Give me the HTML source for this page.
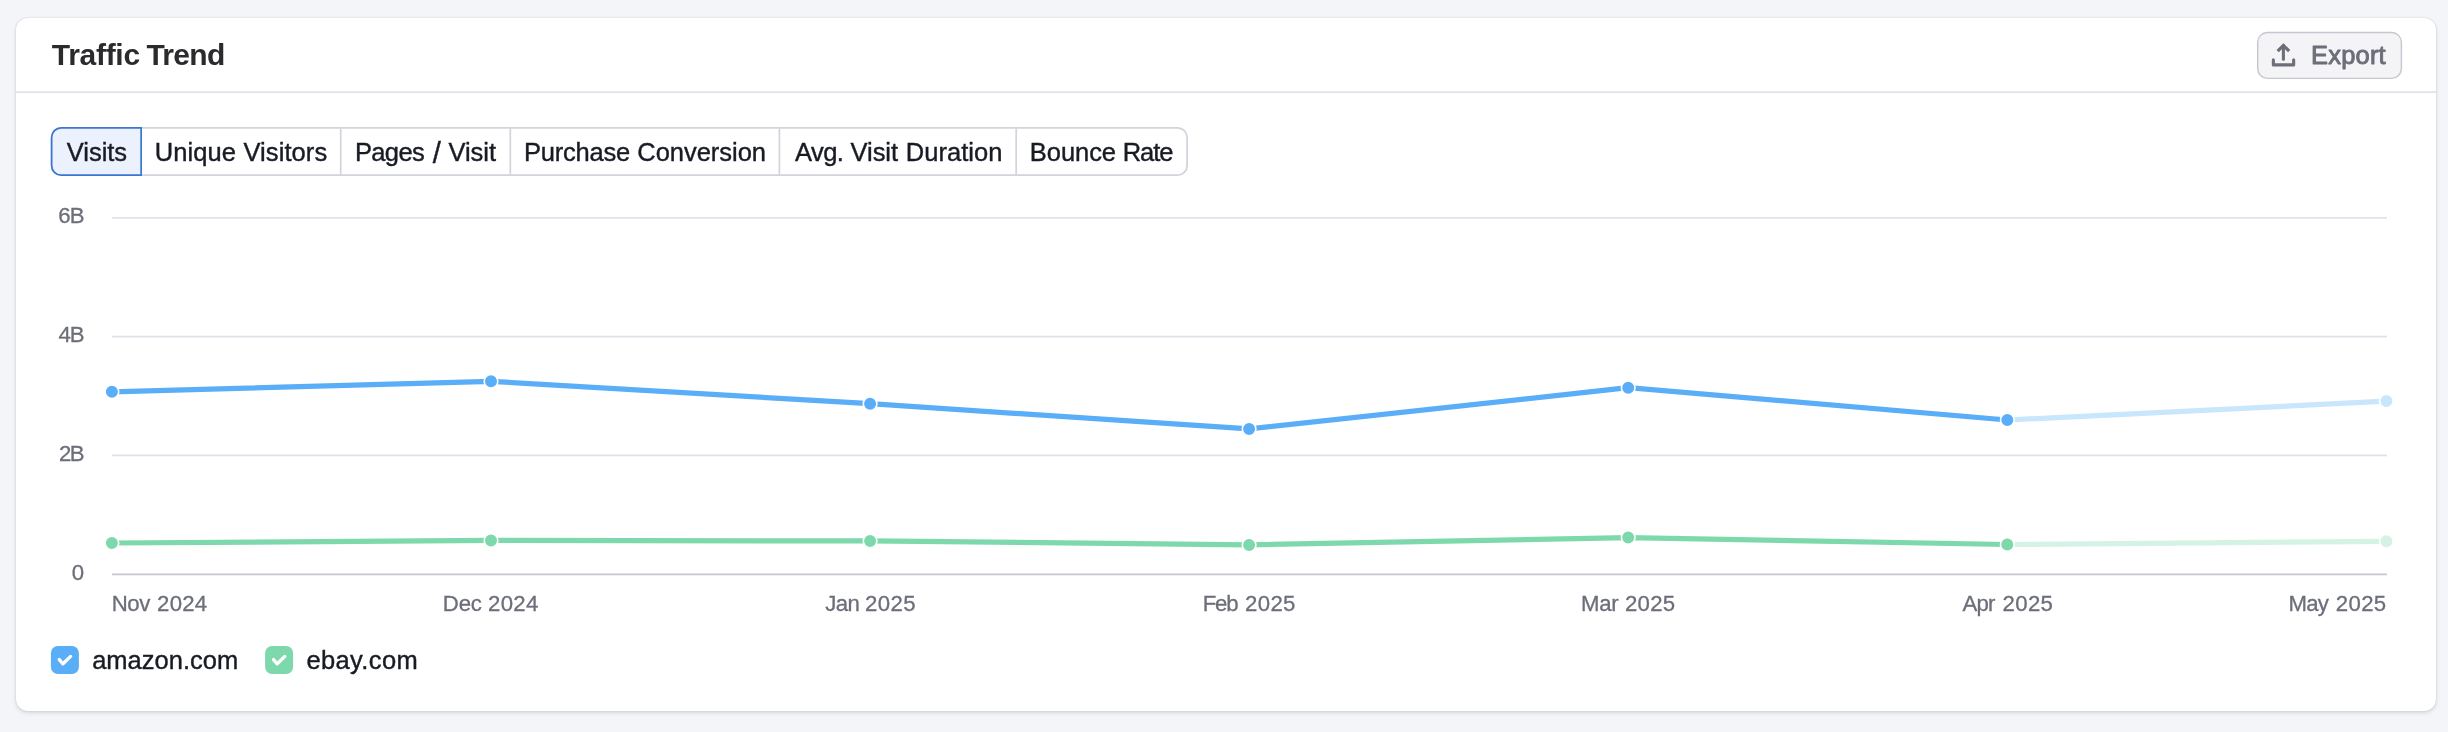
<!DOCTYPE html>
<html lang="en">
<head>
<meta charset="utf-8">
<title>Traffic Trend</title>
<style>
  html, body { margin: 0; padding: 0; }
  body {
    width: 2448px; height: 732px; overflow: hidden;
    background: #f4f5f9;
    font-family: "Liberation Sans", sans-serif;
    position: relative;
  }
  .card {
    position: absolute; left: 16px; top: 18px; width: 2420px; height: 693px;
    background: #ffffff; border-radius: 12px;
    box-shadow: 0 0 2px rgba(25,27,35,0.16), 0 2px 4px rgba(25,27,35,0.12);
  }
  svg { position: absolute; left: 0; top: 0; will-change: transform; }
  text { font-family: "Liberation Sans", sans-serif; }
</style>
</head>
<body>
<div class="card"></div>

<svg width="2448" height="732" viewBox="0 0 2448 732">

  <!-- header divider -->
  <line x1="16" y1="92.15" x2="2436" y2="92.15" stroke="#e0e1e9" stroke-width="1.75"/>

  <!-- export button -->
  <rect x="2257.7" y="32.5" width="143.7" height="45.9" rx="9.8" ry="9.8" fill="#f4f4f6" stroke="#c4c7cf" stroke-width="1.4"/>
  <g fill="none" stroke="#6c6e79">
    <path d="M2283.4 59.3 V45.6" stroke-width="3.1" stroke-linecap="round"/>
    <path d="M2277.65 51.15 L2283.4 45.4 L2289.15 51.15" stroke-width="3.2" stroke-linecap="butt" stroke-linejoin="miter"/>
    <path d="M2273.35 59.9 V64.9 H2293.65 V59.9" stroke-width="3.1" stroke-linecap="round" stroke-linejoin="round"/>
  </g>

  <g font-size="25.5" fill="#6c6e79" stroke="#6c6e79" stroke-width="0.9" stroke-linejoin="round">
    <text id="t-export" x="2311.02" y="63.5" textLength="74.63" lengthAdjust="spacing">Export</text>
  </g>

  <!-- title -->
  <g font-size="30" font-weight="700" fill="#2b2b2d">
    <text id="t-title" x="51.82" y="65" textLength="88.27" lengthAdjust="spacing">Traffic</text>
    <text x="146.39" y="65" textLength="78.82" lengthAdjust="spacing">Trend</text>
  </g>

  <!-- tab group -->
  <rect x="51.625" y="127.875" width="1135.5" height="47.25" rx="9.6" ry="9.6" fill="#ffffff" stroke="#d2d4db" stroke-width="1.75"/>
  <g stroke="#d3d5dc" stroke-width="1.75">
    <line x1="340.7" y1="128.5" x2="340.7" y2="174.5"/>
    <line x1="510.3" y1="128.5" x2="510.3" y2="174.5"/>
    <line x1="779.4" y1="128.5" x2="779.4" y2="174.5"/>
    <line x1="1016.2" y1="128.5" x2="1016.2" y2="174.5"/>
  </g>
  <path d="M141.15 127.875 H61.225 A9.6 9.6 0 0 0 51.625 137.475 V165.525 A9.6 9.6 0 0 0 61.225 175.125 H141.15 Z" fill="#ebf2fe" stroke="#3a76d2" stroke-width="1.75"/>
  <g font-size="25.5" fill="#191b23" stroke="#191b23" stroke-width="0.4">
    <text x="66.70" y="161" textLength="60.42" lengthAdjust="spacing">Visits</text>
    <text x="154.68" y="161" textLength="81.18" lengthAdjust="spacing">Unique</text>
    <text x="243.46" y="161" textLength="83.69" lengthAdjust="spacing">Visitors</text>
    <text x="354.88" y="161" textLength="69.87" lengthAdjust="spacing">Pages</text>
    <text font-size="29" x="432.87" y="163.4">/</text>
    <text x="448.46" y="161" textLength="47.53" lengthAdjust="spacing">Visit</text>
    <text x="524.01" y="161" textLength="106.29" lengthAdjust="spacing">Purchase</text>
    <text x="637.28" y="161" textLength="128.70" lengthAdjust="spacing">Conversion</text>
    <text x="794.90" y="161" textLength="49.05" lengthAdjust="spacing">Avg.</text>
    <text x="850.41" y="161" textLength="47.72" lengthAdjust="spacing">Visit</text>
    <text x="905.85" y="161" textLength="96.51" lengthAdjust="spacing">Duration</text>
    <text x="1029.84" y="161" textLength="86.21" lengthAdjust="spacing">Bounce</text>
    <text x="1122.63" y="161" textLength="50.85" lengthAdjust="spacing">Rate</text>
  </g>

  <!-- grid -->
  <g stroke="#e0e1e9" stroke-width="1.75">
    <line x1="112" y1="217.9" x2="2387" y2="217.9"/>
    <line x1="112" y1="336.65" x2="2387" y2="336.65"/>
    <line x1="112" y1="455.4" x2="2387" y2="455.4"/>
  </g>
  <line x1="112" y1="574.3" x2="2387" y2="574.3" stroke="#c4c7cf" stroke-width="1.75"/>

  <!-- axis labels -->
  <g font-size="22.2" fill="#6c6e79" stroke="#6c6e79" stroke-width="0.3">
    <text x="58.19" y="223" textLength="26.39" lengthAdjust="spacing">6B</text>
    <text x="58.38" y="342" textLength="26.19" lengthAdjust="spacing">4B</text>
    <text x="59.09" y="461" textLength="25.49" lengthAdjust="spacing">2B</text>
    <text x="71.71" y="580">0</text>
    <text x="111.77" y="611" textLength="38.55" lengthAdjust="spacing">Nov</text>
    <text x="157.11" y="611" textLength="49.99" lengthAdjust="spacing">2024</text>
    <text x="442.82" y="611" textLength="39.08" lengthAdjust="spacing">Dec</text>
    <text x="488.11" y="611" textLength="50.14" lengthAdjust="spacing">2024</text>
    <text x="825.13" y="611" textLength="34.64" lengthAdjust="spacing">Jan</text>
    <text x="865.11" y="611" textLength="50.59" lengthAdjust="spacing">2025</text>
    <text x="1202.82" y="611" textLength="35.69" lengthAdjust="spacing">Feb</text>
    <text x="1245.09" y="611" textLength="50.33" lengthAdjust="spacing">2025</text>
    <text x="1581.04" y="611" textLength="37.55" lengthAdjust="spacing">Mar</text>
    <text x="1624.92" y="611" textLength="50.24" lengthAdjust="spacing">2025</text>
    <text x="1962.60" y="611" textLength="32.85" lengthAdjust="spacing">Apr</text>
    <text x="2002.59" y="611" textLength="50.33" lengthAdjust="spacing">2025</text>
    <text x="2288.50" y="611" textLength="40.37" lengthAdjust="spacing">May</text>
    <text x="2335.75" y="611" textLength="50.42" lengthAdjust="spacing">2025</text>
  </g>

  <!-- forecast (faded) segments -->
  <polyline points="2007.3,420 2386.4,401.1" fill="none" stroke="#c8e6fc" stroke-width="5.25"/>
  <polyline points="2007.3,544.5 2386.4,541.3" fill="none" stroke="#d4f3e4" stroke-width="5.25"/>
  <!-- series -->
  <polyline points="111.9,391.8 491,381.3 870.1,403.7 1249.1,428.9 1628.2,387.7 2007.3,420" fill="none" stroke="#5aaef7" stroke-width="5.25" stroke-linejoin="round"/>
  <polyline points="111.9,543 491,540.4 870.1,540.9 1249.1,544.9 1628.2,537.6 2007.3,544.5" fill="none" stroke="#7dd8ab" stroke-width="5.25" stroke-linejoin="round"/>
  <!-- dots -->
  <g stroke="#ffffff" stroke-width="1.6">
    <circle cx="111.9" cy="391.8" r="6.8" fill="#5aaef7"/>
    <circle cx="491" cy="381.3" r="6.8" fill="#5aaef7"/>
    <circle cx="870.1" cy="403.7" r="6.8" fill="#5aaef7"/>
    <circle cx="1249.1" cy="428.9" r="6.8" fill="#5aaef7"/>
    <circle cx="1628.2" cy="387.7" r="6.8" fill="#5aaef7"/>
    <circle cx="2007.3" cy="420" r="6.8" fill="#5aaef7"/>
    <circle cx="2386.4" cy="401.1" r="6.8" fill="#c8e6fc"/>
    <circle cx="111.9" cy="543" r="6.8" fill="#7dd8ab"/>
    <circle cx="491" cy="540.4" r="6.8" fill="#7dd8ab"/>
    <circle cx="870.1" cy="540.9" r="6.8" fill="#7dd8ab"/>
    <circle cx="1249.1" cy="544.9" r="6.8" fill="#7dd8ab"/>
    <circle cx="1628.2" cy="537.6" r="6.8" fill="#7dd8ab"/>
    <circle cx="2007.3" cy="544.5" r="6.8" fill="#7dd8ab"/>
    <circle cx="2386.4" cy="541.3" r="6.8" fill="#d4f3e4"/>
  </g>

  <!-- legend -->
  <rect x="50.9" y="645.9" width="28" height="28.1" rx="7" ry="7" fill="#5aaef7"/>
  <rect x="265.1" y="645.9" width="28" height="28.1" rx="7" ry="7" fill="#7dd8ab"/>
  <g fill="none" stroke="#ffffff" stroke-width="3.3" stroke-linecap="round" stroke-linejoin="round">
    <path d="M59.3 659.6 L63 663.8 L70.6 656.4"/>
    <path d="M273.5 659.6 L277.2 663.8 L284.8 656.4"/>
  </g>
  <g font-size="25.5" fill="#191b23" stroke="#191b23" stroke-width="0.4">
    <text id="t-leg1" x="92.16" y="669" textLength="146.10" lengthAdjust="spacing">amazon.com</text>
    <text id="t-leg2" x="306.45" y="669" textLength="111.24" lengthAdjust="spacing">ebay.com</text>
  </g>
</svg>
</body>
</html>
